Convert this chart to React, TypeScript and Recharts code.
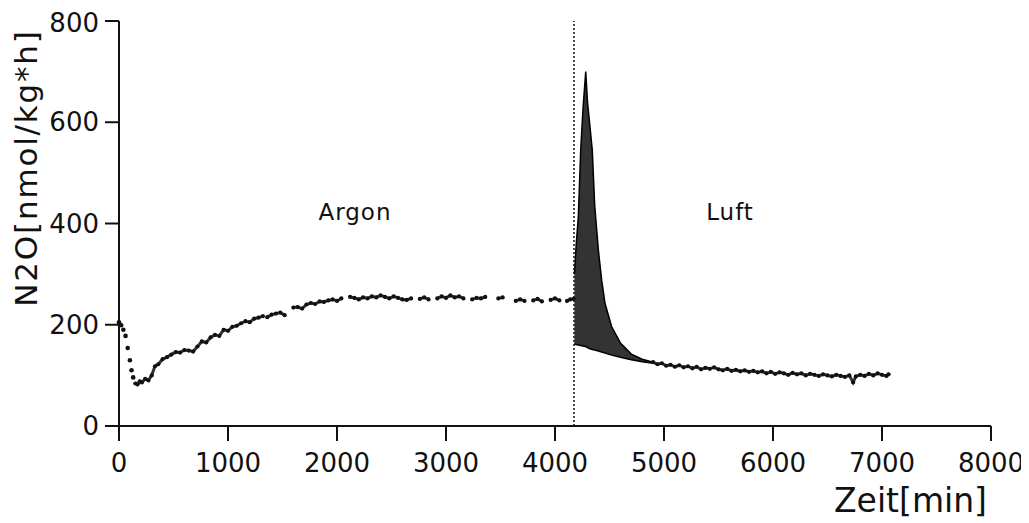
import { Area, ComposedChart, Line, ReferenceLine, XAxis, YAxis } from "recharts";

const xTicks = [0, 1000, 2000, 3000, 4000, 5000, 6000, 7000, 8000];
const yTicks = [0, 200, 400, 600, 800];

// first minutes: single dots, not joined
const dropMin = [0, 20, 40, 60, 80, 100, 115, 130];
const dropValues = [205, 199, 190, 178, 154, 130, 110, 96];

// Argon phase
const argonMin = [
    150, 170, 190, 210, 240, 270, 300, 330, 360, 400,
    440, 480, 520, 560, 600, 640, 680, 720, 760, 800,
    840, 880, 920, 960, 1000, 1040, 1080, 1120, 1160, 1200,
    1240, 1280, 1320, 1340, 1360, 1400, 1440, 1480, 1520, 1560,
    1600, 1640, 1680, 1720, 1760, 1800, 1840, 1880, 1920, 1960,
    2000, 2040, 2080, 2120, 2160, 2200, 2240, 2280, 2320, 2360,
    2400, 2440, 2480, 2520, 2560, 2600, 2640, 2680, 2720, 2760,
    2800, 2840, 2880, 2920, 2960, 3000, 3040, 3080, 3120, 3160,
    3200, 3240, 3280, 3320, 3360, 3400, 3440, 3480, 3520, 3560,
    3600, 3640, 3680, 3720, 3760, 3800, 3840, 3880, 3920, 3960,
    4000, 4040, 4080, 4110, 4140, 4170,
];
const argonValues = [
    84, 82, 88, 86, 93, 90, 100, 118, 122, 132,
    136, 141, 146, 145, 150, 149, 147, 157, 167, 165,
    175, 180, 178, 190, 188, 196, 198, 203, 207, 205,
    212, 214, 217, null, 215, 220, 222, 224, 219, null,
    234, 235, 232, 240, 243, 241, 246, 245, 248, 250,
    247, 252, null, 255, 253, 250, 254, 252, 256, 254,
    258, 255, 252, 256, 253, 250, 249, 252, null, 251,
    254, 250, null, 252, 256, 253, 258, 254, 256, 252,
    null, 250, 253, 252, 255, null, null, 252, 254, null,
    null, 247, 250, 247, null, 248, 251, 246, null, 249,
    252, 248, null, 247, 250, 251,
];

// Luft peak: dense scatter drawn as a low/high band
const bandMin = [4165, 4178, 4195, 4214, 4236, 4258, 4282, 4298, 4315, 4342, 4364, 4398, 4428, 4459, 4520, 4600, 4700, 4800, 4900];
const bandLow = [163, 162, 161, 160, 159, 158, 157, 155, 153, 151, 150, 148, 146, 144, 140, 136, 131, 127, 124];
const bandHigh = [248, 300, 360, 413, 545, 630, 700, 640, 604, 545, 436, 347, 288, 242, 196, 164, 142, 132, 126];

// Luft tail
const luftMin = [
    4900, 4940, 4980, 5020, 5060, 5100, 5140, 5180, 5220, 5260,
    5300, 5340, 5380, 5420, 5460, 5500, 5540, 5580, 5620, 5660,
    5700, 5740, 5780, 5820, 5860, 5900, 5940, 5980, 6020, 6060,
    6100, 6140, 6180, 6220, 6260, 6300, 6340, 6380, 6420, 6460,
    6500, 6540, 6580, 6620, 6660, 6700, 6735, 6760, 6800, 6840,
    6880, 6920, 6960, 7000, 7040, 7060,
];
const luftValues = [
    126, 122, 124, 119, 121, 117, 120, 116, 118, 114,
    117, 112, 115, 113, 116, 112, 110, 113, 109, 111,
    108, 110, 107, 109, 106, 108, 104, 107, 103, 106,
    104, 101, 105, 102, 104, 100, 103, 101, 99, 102,
    100, 98, 101, 99, 97, 100, 86, 98, 101, 99,
    103, 100, 104, 101, 99, 102,
];

const switchMin = 4174;

interface Row {
    t: number;
    drop?: number | null;
    argon?: number | null;
    band?: [number, number];
    luft?: number | null;
}

function buildRows(): Row[] {
    const rows = new Map<number, Row>();
    const get = (t: number) => {
        if (!rows.has(t)) rows.set(t, { t });
        return rows.get(t)!;
    };
    dropMin.forEach((t, i) => (get(t).drop = dropValues[i]));
    argonMin.forEach((t, i) => (get(t).argon = argonValues[i]));
    bandMin.forEach((t, i) => (get(t).band = [bandLow[i], bandHigh[i]]));
    luftMin.forEach((t, i) => (get(t).luft = luftValues[i]));
    return [...rows.values()].sort((a, b) => a.t - b.t);
}

const data = buildRows();

const font = "'DejaVu Sans', sans-serif";
const dot = { r: 2.1, fill: "#111", stroke: "none" };

export default function App() {
    return (
        <ComposedChart
            width={1021}
            height={515}
            data={data}
            margin={{ top: 13, right: 38, left: 0, bottom: 37 }}
            style={{ fontFamily: font }}
        >
            <XAxis
                dataKey="t"
                type="number"
                domain={[0, 8000]}
                ticks={xTicks}
                height={60}
                tickSize={15}
                tickMargin={13}
                axisLine={{ stroke: "#111", strokeWidth: 2 }}
                tickLine={{ stroke: "#111", strokeWidth: 2 }}
                tick={{ fill: "#111", fontSize: 26, fontFamily: font }}
            />
            <YAxis
                type="number"
                domain={[0, 800]}
                ticks={yTicks}
                width={111}
                tickSize={14}
                tickMargin={6}
                axisLine={{ stroke: "#111", strokeWidth: 2 }}
                tickLine={{ stroke: "#111", strokeWidth: 2 }}
                tick={{ fill: "#111", fontSize: 26, fontFamily: font }}
            />

            <ReferenceLine x={switchMin} stroke="#111" strokeWidth={1.5} strokeDasharray="2 2" />

            <Area
                dataKey="band"
                type="linear"
                fill="#333"
                fillOpacity={1}
                stroke="#000"
                strokeWidth={1.5}
                connectNulls={false}
                isAnimationActive={false}
            />
            <Line
                dataKey="drop"
                stroke="none"
                strokeWidth={0}
                dot={{ r: 2.3, fill: "#111", stroke: "none" }}
                connectNulls={false}
                isAnimationActive={false}
            />
            <Line
                dataKey="argon"
                type="linear"
                stroke="#333"
                strokeWidth={3}
                dot={dot}
                connectNulls={false}
                isAnimationActive={false}
            />
            <Line
                dataKey="luft"
                type="linear"
                stroke="#333"
                strokeWidth={3}
                dot={dot}
                connectNulls={false}
                isAnimationActive={false}
            />

            <text x={347} y={212} textAnchor="middle" fontSize={23} letterSpacing={1} fill="#111" fontFamily={font}>
                Argon
            </text>
            <text x={722} y={212} textAnchor="middle" fontSize={23} letterSpacing={1} fill="#111" fontFamily={font}>
                Luft
            </text>
            <text
                x={29}
                y={160}
                textAnchor="middle"
                fontSize={31}
                letterSpacing={1.8}
                fill="#111"
                fontFamily={font}
                transform="rotate(-90, 29, 160)"
            >
                N2O[nmol/kg*h]
            </text>
            <text x={979} y={504} textAnchor="end" fontSize={33} fill="#111" fontFamily={font}>
                Zeit[min]
            </text>
        </ComposedChart>
    );
}
